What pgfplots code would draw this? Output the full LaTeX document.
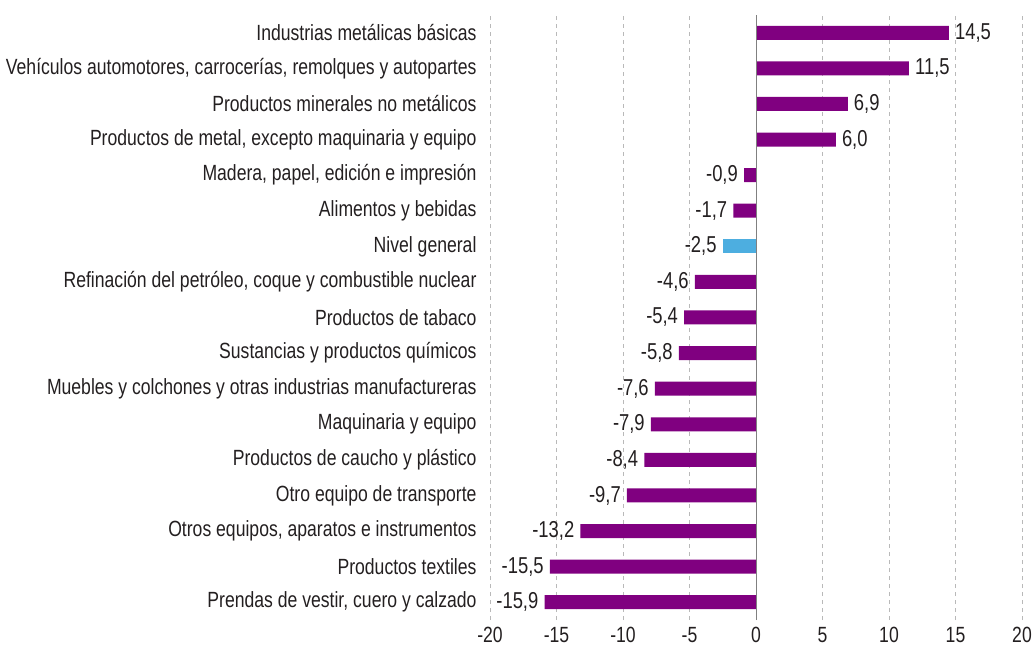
\documentclass[border=0pt]{standalone}
\usepackage{fontspec}
\setmainfont{Liberation Sans}[FakeStretch=0.8]
\usepackage{pgfplots}
\pgfplotsset{compat=1.18}
\definecolor{barpurple}{HTML}{800080}
\definecolor{barblue}{HTML}{4DAEE0}
\definecolor{txt}{HTML}{231F20}
\begin{document}
\begin{tikzpicture}[x=1pt,y=1pt]
\useasboundingbox (0,0) rectangle (1035,648);
\begin{axis}[
  at={(490pt,28pt)}, anchor=south west,
  scale only axis, width=532pt, height=605pt,
  xbar, bar width=14pt, bar shift=0pt,
  xmin=-20, xmax=20, ymin=-0.5, ymax=16.5,
  xtick={-20,-15,...,20},
  ytick={0,...,16},
  yticklabels={{Prendas de vestir, cuero y calzado}, Productos textiles, {Otros equipos, aparatos e instrumentos}, Otro equipo de transporte, Productos de caucho y plástico, Maquinaria y equipo, Muebles y colchones y otras industrias manufactureras, Sustancias y productos químicos, Productos de tabaco, {Refinación del petróleo, coque y combustible nuclear}, Nivel general, Alimentos y bebidas, {Madera, papel, edición e impresión}, {Productos de metal, excepto maquinaria y equipo}, Productos minerales no metálicos, {Vehículos automotores, carrocerías, remolques y autopartes}, Industrias metálicas básicas},
  axis line style={draw=none},
  major tick length=0pt,
  xmajorgrids, major grid style={dash pattern=on 4pt off 4pt, gray!55, line width=0.7pt},
  /pgf/number format/assume math mode=true,
  ticklabel style={font=\fontsize{22}{26}\selectfont, text=txt},
  yticklabel style={xshift=-10pt},
  xticklabel style={yshift=-4pt},
  nodes near coords,
  nodes near coords style={font=\fontsize{23}{27}\selectfont, text=txt, inner sep=6pt,
    /pgf/number format/.cd, fixed, fixed zerofill, precision=1, use comma, assume math mode=true},
  nodes near coords align=horizontal,
  clip=false,
]
\addplot[fill=barpurple, draw=none] coordinates {
  (-15.9,0) (-15.5,1) (-13.2,2) (-9.7,3) (-8.4,4) (-7.9,5) (-7.6,6) (-5.8,7) (-5.4,8) (-4.6,9)
  (-1.7,11) (-0.9,12) (6.0,13) (6.9,14) (11.5,15) (14.5,16)};
\addplot[fill=barblue, draw=none] coordinates {(-2.5,10)};
\draw[gray, line width=0.8pt] (axis cs:0,-0.5) -- (axis cs:0,16.5);
\end{axis}
\end{tikzpicture}
\end{document}
